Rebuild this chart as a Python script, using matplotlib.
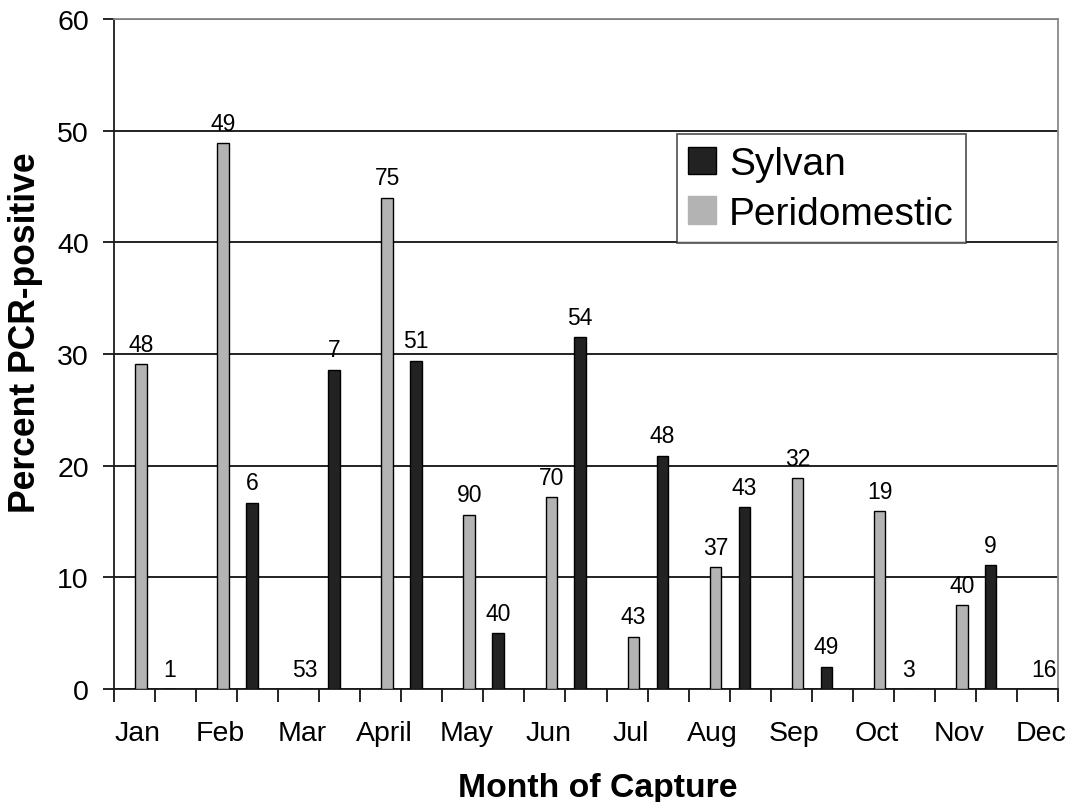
import matplotlib
matplotlib.use("Agg")
import matplotlib.pyplot as plt
import numpy as np
from matplotlib.patches import Patch

months = ["Jan", "Feb", "Mar", "April", "May", "Jun", "Jul", "Aug", "Sep", "Oct", "Nov", "Dec"]
peri_pct = [29.1, 48.9, 0, 44.0, 15.6, 17.2, 4.7, 10.9, 18.9, 15.9, 7.5, 0]
peri_n = [48, 49, 53, 75, 90, 70, 43, 37, 32, 19, 40, 16]
sylv_pct = [0, 16.7, 28.6, 29.4, 5.0, 31.5, 20.9, 16.3, 2.0, 0, 11.1]
sylv_n = [1, 6, 7, 51, 40, 54, 48, 43, 49, 3, 9]

plt.rcParams['font.family'] = ['Liberation Sans', 'DejaVu Sans']

fig = plt.figure(figsize=(10.70, 8.03), dpi=100)
ax = fig.add_axes([0.1065, 0.1407, 0.8823, 0.8343])

bw = 0.28
peri_x = np.arange(len(peri_pct)) * 2 + 0.655
sylv_x = np.arange(len(sylv_pct)) * 2 + 1.36

ax.bar(peri_x, peri_pct, width=bw, color="#b3b3b3", edgecolor="black", linewidth=1.0, zorder=3)
ax.bar(sylv_x, sylv_pct, width=bw, color="#222222", edgecolor="black", linewidth=1.0, zorder=3)

for x, v, n in zip(peri_x, peri_pct, peri_n):
    ax.annotate(str(n), (x, v), xytext=(0, 6), textcoords="offset points",
                ha="center", va="bottom", fontsize=16.5, zorder=4)
for x, v, n in zip(sylv_x, sylv_pct, sylv_n):
    ax.annotate(str(n), (x, v), xytext=(0, 6), textcoords="offset points",
                ha="center", va="bottom", fontsize=16.5, zorder=4)

ax.set_xlim(0, 23)
ax.set_ylim(0, 60)
ax.set_yticks(np.arange(0, 61, 10))
ax.yaxis.grid(True, color="#111111", linewidth=1.3, zorder=0)
ax.tick_params(axis="y", direction="out", length=8, width=1.2, labelsize=20.5, pad=10)

ax.set_xticks(np.arange(0, 24), minor=True)
ax.set_xticks(np.arange(len(months)) * 2 + 0.58)
ax.set_xticklabels(months)
ax.tick_params(axis="x", which="major", length=0, labelsize=20.5, pad=22)
ax.tick_params(axis="x", which="minor", direction="out", length=9, width=1.2)

for s in ["left", "bottom"]:
    ax.spines[s].set_color("#1a1a1a")
    ax.spines[s].set_linewidth(1.3)
for s in ["top", "right"]:
    ax.spines[s].set_color("#888888")
    ax.spines[s].set_linewidth(1.3)

ax.set_ylabel("Percent PCR-positive", fontsize=25.6, fontweight="bold")
ax.set_xlabel("Month of Capture", fontsize=24.3, fontweight="bold")
ax.yaxis.set_label_coords(-0.075, 0.534)
ax.xaxis.set_label_coords(0.512, -0.16)
ax.xaxis.label.set_va("baseline")

handles = [Patch(facecolor="#222222", edgecolor="black", label="Sylvan"),
           Patch(facecolor="#b3b3b3", edgecolor="#b3b3b3", label="Peridomestic")]
leg = ax.legend(handles=handles, loc="upper left", bbox_to_anchor=(0.596, 0.828),
                fontsize=28, frameon=True, fancybox=False, shadow=False,
                handlelength=0.7, handleheight=0.7, handletextpad=0.35,
                borderpad=0.3, labelspacing=0.35, borderaxespad=0)
leg.get_frame().set_edgecolor("#333333")
leg.get_frame().set_linewidth(1.3)
leg.set_zorder(5)

fig.savefig("out.png", dpi=100)
